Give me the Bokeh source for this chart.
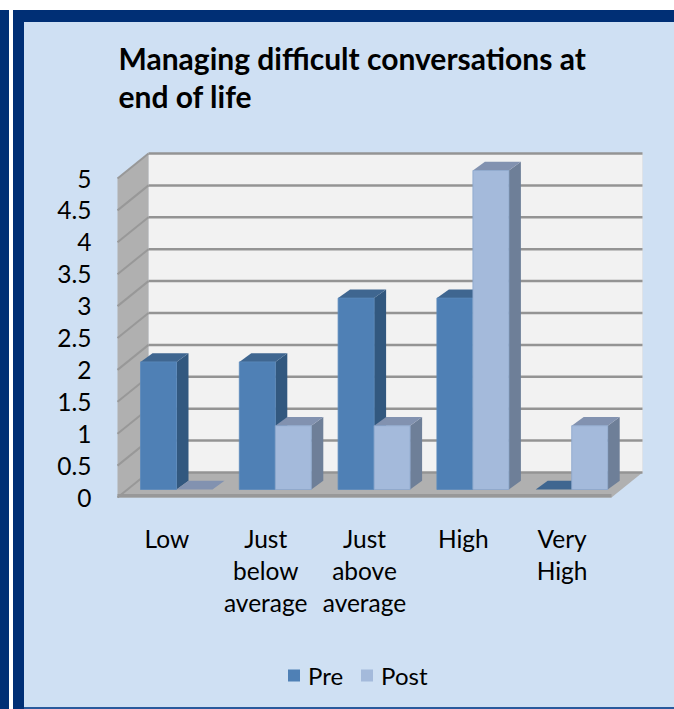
from bokeh.plotting import figure
from bokeh.embed import file_html
from bokeh.resources import INLINE
from bokeh.models import (Range1d, FixedTicker, Title, Legend, LegendItem)
import numpy as np

TITLE = "Managing difficult conversations at\nend of life"
categories = ["Low", "Just\nbelow\naverage", "Just\nabove\naverage", "High", "Very\nHigh"]
pre_values = [2, 2, 3, 3, 0]
post_values = [0, 1, 1, 5, 1]
y_ticks = [0, 0.5, 1, 1.5, 2, 2.5, 3, 3.5, 4, 4.5, 5]
y_labels = ["0", "0.5", "1", "1.5", "2", "2.5", "3", "3.5", "4", "4.5", "5"]
series_names = ["Pre", "Post"]
PRE_COLOR, POST_COLOR = "#4f80b5", "#a4badb"

FONT = "Lato"
UX, UY = 98.8, 63.8              # pixels per category / per value unit
WALL_DX, WALL_DY = 31 / UX, 25 / UY
BAR_DX, BAR_DY = 12 / UX, 8.7 / UY
BAR_W = 36 / UX
BAR_X0 = 23 / UX
BAR_BASE = 8 / UY
n = len(categories)

p = figure(width=674, height=709, output_backend="svg", toolbar_location=None,
           x_range=Range1d(-2 / UX, 528 / UX), y_range=Range1d(-1 / UY, 347 / UY),
           min_border_left=115, min_border_right=29, min_border_top=150, min_border_bottom=211,
           frame_width=530, frame_height=348)


def band(color, x, y, w, h):
    return f"linear-gradient({color},{color}) {x}px {y}px / {w}px {h}px no-repeat"


p.styles = {
    "position": "fixed", "left": "0", "top": "0",
    "background": ", ".join([
        band("#2a5a9c", 24, 707, 650, 2),
        band("#cfe0f3", 24, 22, 650, 685),
        band("#002f75", 13, 10, 661, 699),
        band("#002f75", 0, 10, 9, 699),
        band("#ffffff", 0, 0, 674, 709),
    ]),
}
p.outline_line_color = None
p.background_fill_alpha = 0
p.border_fill_alpha = 0
p.grid.visible = False

# back wall, side wall and floor
ymax = y_ticks[-1]
p.quad(left=[WALL_DX], right=[n + WALL_DX], bottom=[WALL_DY], top=[ymax + WALL_DY],
       fill_color="#f2f2f2", line_color="#dfe3e8", line_width=1)
p.patch([0, WALL_DX, WALL_DX, 0], [0, WALL_DY, ymax + WALL_DY, ymax], fill_color="#b0b0b0", line_color=None)
p.patch([0, WALL_DX, n + WALL_DX, n], [0, WALL_DY, WALL_DY, 0], fill_color="#b0b0b0", line_color=None)
p.patch([0, n, n, 0], [0, 0, 3.5 / UY, 3.5 / UY], fill_color="#989898", line_color=None)
ticks = np.array(y_ticks)
p.segment(x0=np.full(len(ticks), WALL_DX), x1=np.full(len(ticks), n + WALL_DX),
          y0=ticks + WALL_DY, y1=ticks + WALL_DY, line_color="#949494", line_width=2.5)
p.segment(x0=np.zeros(len(ticks)), x1=np.full(len(ticks), WALL_DX),
          y0=ticks, y1=ticks + WALL_DY, line_color="#989898", line_width=2)


# 3-D columns
def column(values, offset, front, side, top, edge):
    v = np.array(values, dtype=float)
    x0 = np.arange(n) + BAR_X0 + offset
    x1 = x0 + BAR_W
    t = v + BAR_BASE
    b = np.full(n, BAR_BASE)
    p.patches([[a, a + BAR_DX, a + BAR_DX, a] for a, h in zip(x1, t) if h > BAR_BASE],
              [[BAR_BASE, BAR_BASE + BAR_DY, h + BAR_DY, h] for a, h in zip(x1, t) if h > BAR_BASE],
              fill_color=side, line_color=None)
    p.patches([[a, c, c + BAR_DX, a + BAR_DX] for a, c in zip(x0, x1)],
              [[h, h, h + BAR_DY, h + BAR_DY] for h in t],
              fill_color=top, line_color=None)
    keep = v > 0
    return p.quad(left=x0[keep], right=x1[keep], bottom=b[keep], top=t[keep], fill_color=front,
                  line_color=edge, line_width=1, line_alpha=0.8)


column(pre_values, 0, PRE_COLOR, "#32587f", "#3f6690", "#5b8abc")
column(post_values, BAR_W, POST_COLOR, "#6e7f98", "#8292b0", "#8ba6cc")

# axes
p.yaxis.ticker = FixedTicker(ticks=y_ticks)
p.yaxis.major_label_overrides = dict(zip(y_ticks, y_labels))
p.yaxis.major_label_text_font = FONT
p.yaxis.major_label_text_font_size = "24.5px"
p.yaxis.major_label_text_color = "#000000"
p.yaxis.major_label_standoff = 18
p.yaxis.axis_line_color = None
p.yaxis.major_tick_line_color = None
p.yaxis.minor_tick_line_color = None

centers = [i + 0.5 for i in range(n)]
p.xaxis.ticker = FixedTicker(ticks=centers)
p.xaxis.major_label_overrides = dict(zip(centers, categories))
p.xaxis.major_label_text_font = FONT
p.xaxis.major_label_text_font_size = "24.5px"
p.xaxis.major_label_text_color = "#000000"
p.xaxis.major_label_text_line_height = 1.12
p.xaxis.major_label_standoff = 19
p.xaxis.axis_line_color = None
p.xaxis.major_tick_line_color = None
p.xaxis.minor_tick_line_color = None

# title
title = Title(text=TITLE, align="left", offset=3, standoff=72,
              text_font=FONT, text_font_style="bold", text_font_size="30px",
              text_color="#000000", text_line_height=1.07)
p.title = None
p.add_layout(title, "above")

# legend: small transparent figure on top of the panel; its proxy quads lie outside the visible range
lg = figure(width=170, height=34, output_backend="svg", toolbar_location=None,
            x_range=Range1d(0, 1), y_range=Range1d(0, 1),
            min_border=0, x_axis_location=None, y_axis_location=None)
lg.styles = {"position": "fixed", "left": "286px", "top": "658px"}
lg.outline_line_color = None
lg.background_fill_alpha = 0
lg.border_fill_alpha = 0
lg.grid.visible = False
lg_pre = lg.quad(left=[2], right=[3], bottom=[2], top=[3], fill_color=PRE_COLOR, line_color=None)
lg_post = lg.quad(left=[2], right=[3], bottom=[2], top=[3], fill_color=POST_COLOR, line_color=None)
legend = Legend(items=[LegendItem(label=series_names[0], renderers=[lg_pre]),
                       LegendItem(label=series_names[1], renderers=[lg_post])],
                location="center_left", orientation="horizontal",
                background_fill_alpha=0, border_line_color=None,
                label_text_font=FONT, label_text_font_size="24px", label_text_color="#000000",
                glyph_width=15, glyph_height=15, spacing=16, label_standoff=7, margin=0, padding=0)
lg.add_layout(legend)

open("out.html", "w").write(file_html([p, lg], INLINE))
